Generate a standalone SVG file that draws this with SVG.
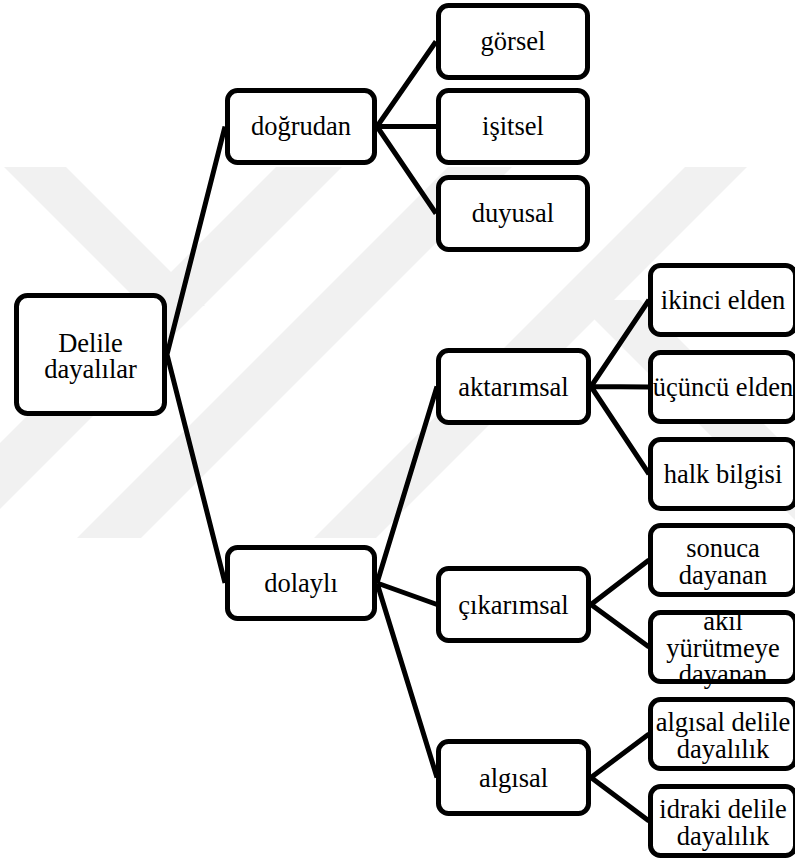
<svg xmlns="http://www.w3.org/2000/svg" width="795" height="863" viewBox="0 0 795 863">
<style>
.box{fill:#fff;stroke:#000;stroke-width:5;}
.t{font-size:26.5px;fill:#000;text-anchor:middle;}
.c{stroke:#000;stroke-width:5;fill:none;stroke-linecap:butt;}
.wm{fill:#f1f1f1;}
</style>
<defs>
<clipPath id="wmclip"><rect x="0" y="167" width="795" height="371"/></clipPath>
</defs>
<rect x="0" y="0" width="795" height="863" fill="#fff"/>
<g id="watermark" clip-path="url(#wmclip)">
<polygon class="wm" points="4,167 66,167 205,306 143,306"/>
<polygon class="wm" points="276,167 342,167 -29,538 -95,538"/>
<polygon class="wm" points="448,167 512,167 141,538 77,538"/>
<polygon class="wm" points="685,167 747,167 376,538 314,538"/>
<polygon class="wm" points="575,300 640,300 878,538 813,538"/>
</g>
<g id="connectors">
<path class="c" d="M167,354.5 L225,126.5 M167,354.5 L225,583"/>
<path class="c" d="M377,126.5 L436,41.5 M377,126.5 L436,126.5 M377,126.5 L436,213.5"/>
<path class="c" d="M377,583 L437,386.5 M377,583 L437,604.5 M377,583 L437,777.5"/>
<path class="c" d="M591,386.5 L649,300 M591,386.5 L649,387 M591,386.5 L649,474"/>
<path class="c" d="M591,604.5 L649,560 M591,604.5 L649,647"/>
<path class="c" d="M591,777.5 L649,734 M591,777.5 L649,821"/>
</g>
<g id="nodes" font-family="'Liberation Serif', 'Times New Roman', Tinos, 'DejaVu Serif', serif">
<g id="n-root"><rect class="box" x="16.5" y="295.5" width="148" height="118" rx="11"/><text class="t" x="90.5" y="351.5">Delile</text><text class="t" x="90.5" y="378">dayalılar</text></g>
<g id="n-dogrudan"><rect class="box" x="227.5" y="90.5" width="147" height="72" rx="10"/><text class="t" x="301" y="135">doğrudan</text></g>
<g id="n-dolayli"><rect class="box" x="227.5" y="547.5" width="147" height="71" rx="10"/><text class="t" x="301" y="591.5">dolaylı</text></g>
<g id="n-gorsel"><rect class="box" x="438.5" y="5.5" width="149" height="72" rx="10"/><text class="t" x="513" y="50">görsel</text></g>
<g id="n-isitsel"><rect class="box" x="438.5" y="90.5" width="149" height="72" rx="10"/><text class="t" x="513" y="135">işitsel</text></g>
<g id="n-duyusal"><rect class="box" x="438.5" y="177.5" width="149" height="72" rx="10"/><text class="t" x="513" y="222">duyusal</text></g>
<g id="n-aktarimsal"><rect class="box" x="438.5" y="350.5" width="150" height="72" rx="10"/><text class="t" x="513.5" y="395.5">aktarımsal</text></g>
<g id="n-cikarimsal"><rect class="box" x="438.5" y="568.5" width="150" height="72" rx="10"/><text class="t" x="513.5" y="613.5">çıkarımsal</text></g>
<g id="n-algisal"><rect class="box" x="438.5" y="741.5" width="150" height="72" rx="10"/><text class="t" x="513.5" y="786.5">algısal</text></g>
<g id="n-ikinci"><rect class="box" x="650.5" y="265.5" width="145" height="69" rx="10"/><text class="t" x="723" y="309">ikinci elden</text></g>
<g id="n-ucuncu"><rect class="box" x="650.5" y="352.5" width="145" height="69" rx="10"/><text class="t" x="723" y="396">üçüncü elden</text></g>
<g id="n-halk"><rect class="box" x="650.5" y="439.5" width="145" height="69" rx="10"/><text class="t" x="723" y="483">halk bilgisi</text></g>
<g id="n-sonuca"><rect class="box" x="650.5" y="525.5" width="145" height="69" rx="10"/><text class="t" x="723" y="557">sonuca</text><text class="t" x="723" y="583.5">dayanan</text></g>
<g id="n-akil"><rect class="box" x="650.5" y="612.5" width="145" height="69" rx="10"/><text class="t" x="723" y="630">akıl</text><text class="t" x="723" y="656.5">yürütmeye</text><text class="t" x="723" y="683">dayanan</text></g>
<g id="n-algisal-delile"><rect class="box" x="650.5" y="699.5" width="145" height="69" rx="10"/><text class="t" x="723" y="731">algısal delile</text><text class="t" x="723" y="757.5">dayalılık</text></g>
<g id="n-idraki"><rect class="box" x="650.5" y="786.5" width="145" height="69" rx="10"/><text class="t" x="723" y="818">idraki delile</text><text class="t" x="723" y="844.5">dayalılık</text></g>
</g>
</svg>
